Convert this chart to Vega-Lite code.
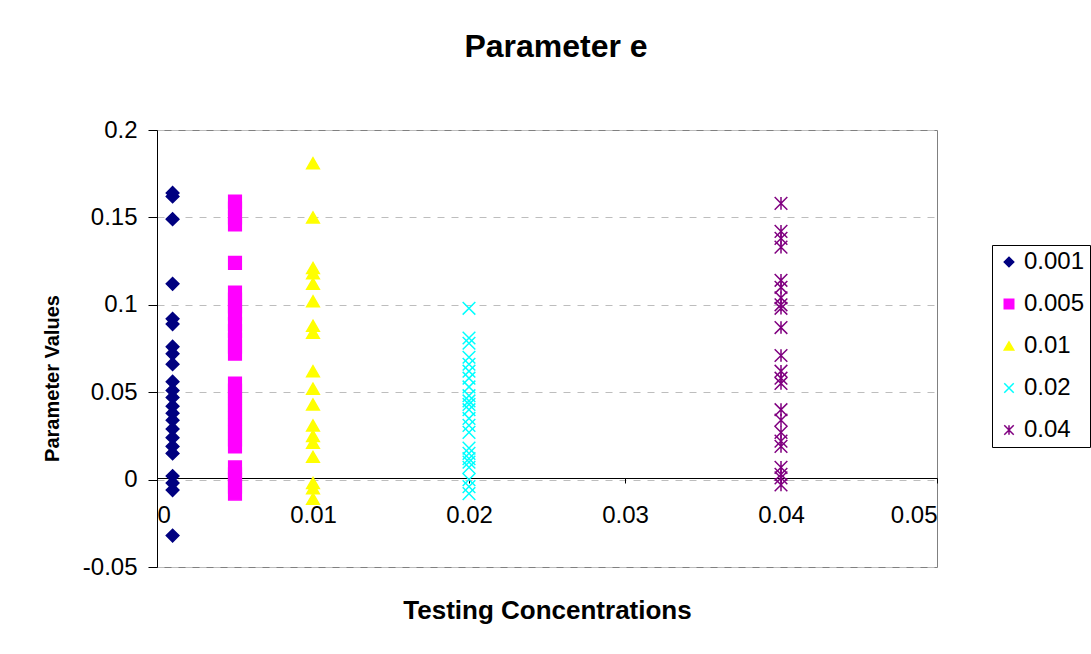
{
  "$schema": "https://vega.github.io/schema/vega-lite/v6.json",
  "width": 780,
  "height": 437,
  "autosize": "none",
  "padding": {"left": 157, "top": 130, "right": 154, "bottom": 87},
  "background": "white",
  "title": {
    "text": "Parameter e",
    "font": "Liberation Sans",
    "fontSize": 32,
    "fontWeight": "bold",
    "color": "black",
    "anchor": "middle",
    "frame": "group",
    "baseline": "alphabetic",
    "offset": 29,
    "dx": 9
  },
  "data": {
    "values": [
      {"conc": 0.001, "series": "0.001", "value": 0.164},
      {"conc": 0.001, "series": "0.001", "value": 0.162},
      {"conc": 0.001, "series": "0.001", "value": 0.149},
      {"conc": 0.001, "series": "0.001", "value": 0.112},
      {"conc": 0.001, "series": "0.001", "value": 0.092},
      {"conc": 0.001, "series": "0.001", "value": 0.089},
      {"conc": 0.001, "series": "0.001", "value": 0.076},
      {"conc": 0.001, "series": "0.001", "value": 0.072},
      {"conc": 0.001, "series": "0.001", "value": 0.066},
      {"conc": 0.001, "series": "0.001", "value": 0.056},
      {"conc": 0.001, "series": "0.001", "value": 0.051},
      {"conc": 0.001, "series": "0.001", "value": 0.047},
      {"conc": 0.001, "series": "0.001", "value": 0.042},
      {"conc": 0.001, "series": "0.001", "value": 0.038},
      {"conc": 0.001, "series": "0.001", "value": 0.034},
      {"conc": 0.001, "series": "0.001", "value": 0.029},
      {"conc": 0.001, "series": "0.001", "value": 0.024},
      {"conc": 0.001, "series": "0.001", "value": 0.019},
      {"conc": 0.001, "series": "0.001", "value": 0.015},
      {"conc": 0.001, "series": "0.001", "value": 0.002},
      {"conc": 0.001, "series": "0.001", "value": -0.002},
      {"conc": 0.001, "series": "0.001", "value": -0.006},
      {"conc": 0.001, "series": "0.001", "value": -0.032},
      {"conc": 0.005, "series": "0.005", "value": 0.159},
      {"conc": 0.005, "series": "0.005", "value": 0.155},
      {"conc": 0.005, "series": "0.005", "value": 0.150},
      {"conc": 0.005, "series": "0.005", "value": 0.146},
      {"conc": 0.005, "series": "0.005", "value": 0.124},
      {"conc": 0.005, "series": "0.005", "value": 0.107},
      {"conc": 0.005, "series": "0.005", "value": 0.103},
      {"conc": 0.005, "series": "0.005", "value": 0.099},
      {"conc": 0.005, "series": "0.005", "value": 0.095},
      {"conc": 0.005, "series": "0.005", "value": 0.089},
      {"conc": 0.005, "series": "0.005", "value": 0.085},
      {"conc": 0.005, "series": "0.005", "value": 0.080},
      {"conc": 0.005, "series": "0.005", "value": 0.076},
      {"conc": 0.005, "series": "0.005", "value": 0.072},
      {"conc": 0.005, "series": "0.005", "value": 0.055},
      {"conc": 0.005, "series": "0.005", "value": 0.051},
      {"conc": 0.005, "series": "0.005", "value": 0.047},
      {"conc": 0.005, "series": "0.005", "value": 0.043},
      {"conc": 0.005, "series": "0.005", "value": 0.039},
      {"conc": 0.005, "series": "0.005", "value": 0.035},
      {"conc": 0.005, "series": "0.005", "value": 0.031},
      {"conc": 0.005, "series": "0.005", "value": 0.027},
      {"conc": 0.005, "series": "0.005", "value": 0.023},
      {"conc": 0.005, "series": "0.005", "value": 0.019},
      {"conc": 0.005, "series": "0.005", "value": 0.007},
      {"conc": 0.005, "series": "0.005", "value": 0.003},
      {"conc": 0.005, "series": "0.005", "value": 0.000},
      {"conc": 0.005, "series": "0.005", "value": -0.004},
      {"conc": 0.005, "series": "0.005", "value": -0.008},
      {"conc": 0.01, "series": "0.01", "value": 0.181},
      {"conc": 0.01, "series": "0.01", "value": 0.150},
      {"conc": 0.01, "series": "0.01", "value": 0.121},
      {"conc": 0.01, "series": "0.01", "value": 0.118},
      {"conc": 0.01, "series": "0.01", "value": 0.112},
      {"conc": 0.01, "series": "0.01", "value": 0.102},
      {"conc": 0.01, "series": "0.01", "value": 0.088},
      {"conc": 0.01, "series": "0.01", "value": 0.084},
      {"conc": 0.01, "series": "0.01", "value": 0.062},
      {"conc": 0.01, "series": "0.01", "value": 0.052},
      {"conc": 0.01, "series": "0.01", "value": 0.043},
      {"conc": 0.01, "series": "0.01", "value": 0.031},
      {"conc": 0.01, "series": "0.01", "value": 0.025},
      {"conc": 0.01, "series": "0.01", "value": 0.021},
      {"conc": 0.01, "series": "0.01", "value": 0.013},
      {"conc": 0.01, "series": "0.01", "value": -0.002},
      {"conc": 0.01, "series": "0.01", "value": -0.005},
      {"conc": 0.01, "series": "0.01", "value": -0.011},
      {"conc": 0.02, "series": "0.02", "value": 0.098},
      {"conc": 0.02, "series": "0.02", "value": 0.081},
      {"conc": 0.02, "series": "0.02", "value": 0.078},
      {"conc": 0.02, "series": "0.02", "value": 0.070},
      {"conc": 0.02, "series": "0.02", "value": 0.066},
      {"conc": 0.02, "series": "0.02", "value": 0.062},
      {"conc": 0.02, "series": "0.02", "value": 0.058},
      {"conc": 0.02, "series": "0.02", "value": 0.053},
      {"conc": 0.02, "series": "0.02", "value": 0.048},
      {"conc": 0.02, "series": "0.02", "value": 0.045},
      {"conc": 0.02, "series": "0.02", "value": 0.043},
      {"conc": 0.02, "series": "0.02", "value": 0.040},
      {"conc": 0.02, "series": "0.02", "value": 0.035},
      {"conc": 0.02, "series": "0.02", "value": 0.031},
      {"conc": 0.02, "series": "0.02", "value": 0.027},
      {"conc": 0.02, "series": "0.02", "value": 0.018},
      {"conc": 0.02, "series": "0.02", "value": 0.015},
      {"conc": 0.02, "series": "0.02", "value": 0.012},
      {"conc": 0.02, "series": "0.02", "value": 0.010},
      {"conc": 0.02, "series": "0.02", "value": 0.007},
      {"conc": 0.02, "series": "0.02", "value": 0.000},
      {"conc": 0.02, "series": "0.02", "value": -0.004},
      {"conc": 0.02, "series": "0.02", "value": -0.008},
      {"conc": 0.04, "series": "0.04", "value": 0.158},
      {"conc": 0.04, "series": "0.04", "value": 0.142},
      {"conc": 0.04, "series": "0.04", "value": 0.138},
      {"conc": 0.04, "series": "0.04", "value": 0.133},
      {"conc": 0.04, "series": "0.04", "value": 0.114},
      {"conc": 0.04, "series": "0.04", "value": 0.110},
      {"conc": 0.04, "series": "0.04", "value": 0.104},
      {"conc": 0.04, "series": "0.04", "value": 0.100},
      {"conc": 0.04, "series": "0.04", "value": 0.098},
      {"conc": 0.04, "series": "0.04", "value": 0.087},
      {"conc": 0.04, "series": "0.04", "value": 0.071},
      {"conc": 0.04, "series": "0.04", "value": 0.062},
      {"conc": 0.04, "series": "0.04", "value": 0.058},
      {"conc": 0.04, "series": "0.04", "value": 0.055},
      {"conc": 0.04, "series": "0.04", "value": 0.040},
      {"conc": 0.04, "series": "0.04", "value": 0.034},
      {"conc": 0.04, "series": "0.04", "value": 0.027},
      {"conc": 0.04, "series": "0.04", "value": 0.022},
      {"conc": 0.04, "series": "0.04", "value": 0.019},
      {"conc": 0.04, "series": "0.04", "value": 0.007},
      {"conc": 0.04, "series": "0.04", "value": 0.003},
      {"conc": 0.04, "series": "0.04", "value": 0.001},
      {"conc": 0.04, "series": "0.04", "value": -0.003}
    ]
  },
  "mark": {"type": "point", "strokeWidth": 1.5, "opacity": 1, "fillOpacity": 1, "size": 160},
  "encoding": {
    "x": {
      "field": "conc",
      "type": "quantitative",
      "scale": {"domain": [0, 0.05], "nice": false, "zero": false},
      "axis": {
        "title": "Testing Concentrations",
        "values": [0, 0.01, 0.02, 0.03, 0.04, 0.05],
        "labelExpr": "toString(datum.value)",
        "offset": -89,
        "grid": false,
        "tickSize": 5,
        "labelPadding": 20,
        "titleBaseline": "alphabetic",
        "titleY": 140,
        "titleFontSize": 26
      }
    },
    "y": {
      "field": "value",
      "type": "quantitative",
      "scale": {"domain": [-0.05, 0.2], "nice": false, "zero": false},
      "axis": {
        "title": "Parameter Values",
        "values": [-0.05, 0, 0.05, 0.1, 0.15, 0.2],
        "labelExpr": "toString(datum.value)",
        "grid": true,
        "gridColor": "#bdbdbd",
        "gridDash": [7, 7],
        "tickSize": 9,
        "labelPadding": 11,
        "titleBaseline": "alphabetic",
        "titleX": -99,
        "titleY": 248,
        "titleFontSize": 20
      }
    },
    "shape": {
      "field": "series",
      "type": "nominal",
      "scale": {
        "domain": ["0.001", "0.005", "0.01", "0.02", "0.04"],
        "range": ["diamond", "square", "triangle-up", "M-1,-1L1,1M-1,1L1,-1", "M-1,-1L1,1M-1,1L1,-1M0,-1L0,1"]
      }
    },
    "fill": {
      "field": "series",
      "type": "nominal",
      "scale": {
        "domain": ["0.001", "0.005", "0.01", "0.02", "0.04"],
        "range": ["#000080", "#FF00FF", "#FFFF00", "#00FFFF", "#800080"]
      }
    },
    "stroke": {
      "field": "series",
      "type": "nominal",
      "scale": {
        "domain": ["0.001", "0.005", "0.01", "0.02", "0.04"],
        "range": ["#000080", "#FF00FF", "#FFFF00", "#00FFFF", "#800080"]
      }
    }
  },
  "config": {
    "font": "Liberation Sans",
    "view": {"stroke": "#808080", "strokeWidth": 1},
    "axis": {
      "domainColor": "black",
      "tickColor": "black",
      "labelFont": "Liberation Sans",
      "labelFontSize": 24,
      "labelColor": "black",
      "titleFont": "Liberation Sans",
      "titleFontWeight": "bold",
      "titleColor": "black"
    },
    "legend": {
      "orient": "none",
      "legendX": 835,
      "legendY": 115,
      "title": null,
      "strokeColor": "black",
      "strokeWidth": 1,
      "padding": 5,
      "labelFont": "Liberation Sans",
      "labelFontSize": 24,
      "labelColor": "black",
      "symbolSize": 90,
      "symbolStrokeWidth": 1.5,
      "rowPadding": 18,
      "labelOffset": 3,
      "fillColor": "white"
    }
  }
}
